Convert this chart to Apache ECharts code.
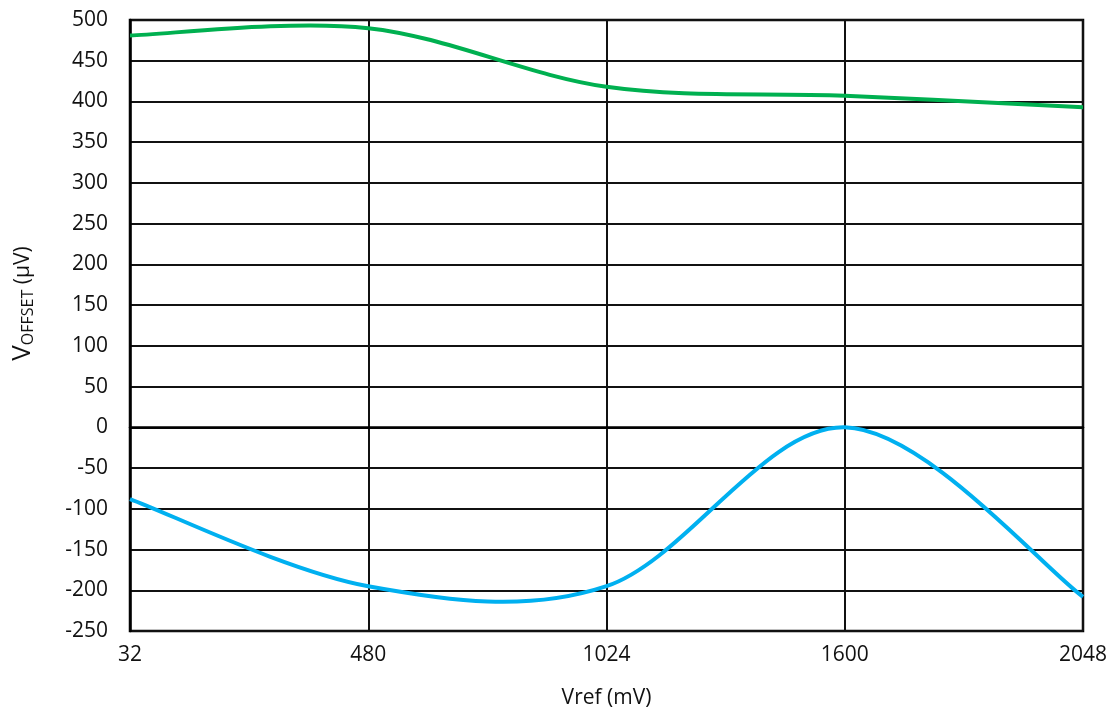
<!DOCTYPE html>
<html>
<head>
<meta charset="utf-8">
<script src="https://cdn.jsdelivr.net/npm/echarts@6/dist/echarts.min.js"></script>
<style>
html,body{margin:0;padding:0;background:#fff;}
#chart{width:1111px;height:713px;}
</style>
</head>
<body>
<div id="chart"></div>
<script>
const categories = ['32', '480', '1024', '1600', '2048'];
const greenSeries = [481, 490, 418, 407, 393];
const blueSeries = [-88, -195, -195, 0, -208];
const yMin = -250, yMax = 500, yStep = 50;

const FONT = '"Open Sans", sans-serif';
const TXT = '#111';

// Excel-style smoothed line: cubic Bezier through the data points (Catmull-Rom tangents),
// positions obtained from the chart's own axes via api.coord.
function smoothRenderer(values, color) {
  return function (params, api) {
    if (params.dataIndex !== 0) return null;
    const pts = values.map((v, i) => api.coord([i, v]));
    const n = pts.length;
    let d = 'M' + pts[0][0] + ',' + pts[0][1];
    for (let i = 0; i < n - 1; i++) {
      const p0 = pts[Math.max(i - 1, 0)], p1 = pts[i], p2 = pts[i + 1], p3 = pts[Math.min(i + 2, n - 1)];
      const c1x = p1[0] + (p2[0] - p0[0]) / 6, c1y = p1[1] + (p2[1] - p0[1]) / 6;
      const c2x = p2[0] - (p3[0] - p1[0]) / 6, c2y = p2[1] - (p3[1] - p1[1]) / 6;
      d += ' C' + c1x + ',' + c1y + ' ' + c2x + ',' + c2y + ' ' + p2[0] + ',' + p2[1];
    }
    return {
      type: 'path',
      shape: {pathData: d},
      style: {fill: 'none', stroke: color, lineWidth: 4, lineJoin: 'round', lineCap: 'butt'}
    };
  };
}

const chart = echarts.init(document.getElementById('chart'));
chart.setOption({
  animation: false,
  backgroundColor: '#fff',
  grid: {left: 130, right: 28, top: 20, bottom: 82, show: true, borderColor: '#000', borderWidth: 2.5,
         containLabel: false, outerBoundsMode: 'none'},
  xAxis: {
    type: 'category',
    data: categories,
    boundaryGap: false,
    name: 'Vref (mV)',
    nameLocation: 'middle',
    nameGap: 57,
    nameTextStyle: {fontFamily: FONT, fontSize: 21, color: TXT},
    axisLine: {lineStyle: {color: '#000', width: 2.5}},
    axisTick: {show: false},
    axisLabel: {fontFamily: FONT, fontSize: 21, color: TXT, margin: 14},
    splitLine: {show: true, lineStyle: {color: '#111', width: 2}}
  },
  yAxis: {
    type: 'value',
    min: yMin, max: yMax, interval: yStep,
    name: '{v|V}{s|OFFSET}{u| (µV)}',
    nameLocation: 'middle',
    nameGap: 94,
    nameRotate: 90,
    nameTextStyle: {
      padding: [0, 0, 0, 44],
      rich: {
        v: {fontFamily: FONT, fontSize: 26, color: TXT},
        s: {fontFamily: FONT, fontSize: 16, color: TXT, verticalAlign: 'bottom', padding: [10, 0, 0, 0]},
        u: {fontFamily: FONT, fontSize: 21, color: TXT}
      }
    },
    axisLine: {show: true, lineStyle: {color: '#000', width: 2.5}},
    axisTick: {show: false},
    axisLabel: {fontFamily: FONT, fontSize: 21, color: TXT, margin: 22},
    splitLine: {show: true, lineStyle: {color: '#111', width: 2}}
  },
  series: [
    {type: 'custom', data: [[0, greenSeries[0]]], renderItem: smoothRenderer(greenSeries, '#00B050'), silent: true, clip: false},
    {type: 'custom', data: [[0, blueSeries[0]]], renderItem: smoothRenderer(blueSeries, '#00B0F0'), silent: true, clip: false}
  ]
});
</script>
</body>
</html>
